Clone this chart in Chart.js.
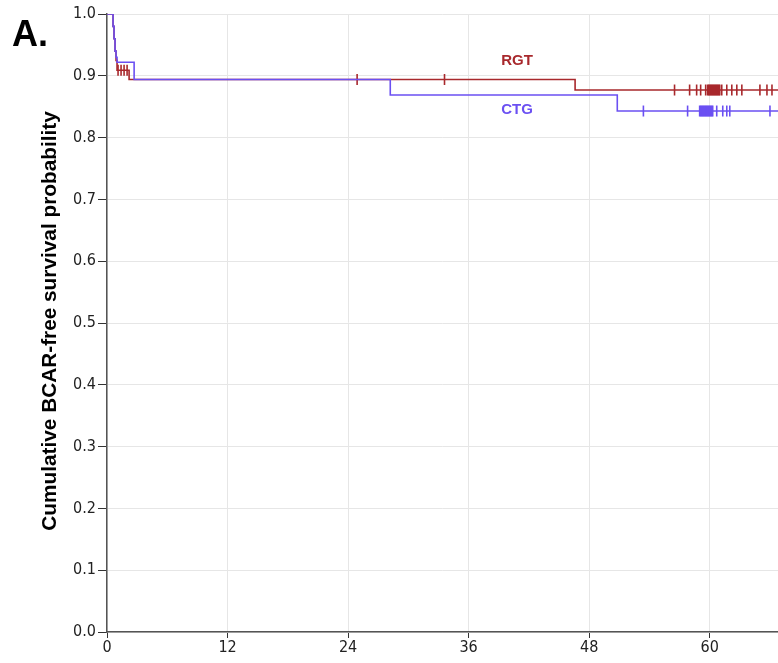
<!DOCTYPE html>
<html>
<head>
<meta charset="utf-8">
<script src="https://cdn.jsdelivr.net/npm/chart.js@4.4.1/dist/chart.umd.min.js"></script>
<style>
  html, body { margin: 0; padding: 0; background: #fff; overflow: hidden; }
  #wrap { width: 778px; height: 663px; position: relative; }
  canvas { display: block; }
</style>
</head>
<body>
<div id="wrap"><canvas id="myChart"></canvas></div>
<script>
// Kaplan-Meier steps (months, survival)
const rgtTime = [0, 0.6, 0.7, 0.8, 0.9, 1.0, 2.2, 46.6];
const rgtSurv = [1.0, 0.98, 0.96, 0.94, 0.925, 0.909, 0.894, 0.877];
const ctgTime = [0, 0.6, 0.7, 0.8, 0.9, 1.0, 2.7, 28.2, 50.8];
const ctgSurv = [1.0, 0.98, 0.96, 0.94, 0.93, 0.922, 0.894, 0.869, 0.843];

// censored times
const rgtCensor = [1.1, 1.4, 1.7, 2.0, 24.9, 33.6, 56.5, 58.0, 58.7, 59.1, 59.6, 59.8,
  59.9, 60.0, 60.1, 60.2, 60.3, 60.4, 60.5, 60.6, 60.7, 60.8, 60.9, 61.0, 61.2,
  61.7, 62.2, 62.7, 63.2, 65.0, 65.7, 66.2];
const ctgCensor = [53.4, 57.8, 59.0, 59.1, 59.2, 59.3, 59.4, 59.5, 59.6, 59.7, 59.8, 59.9,
  60.0, 60.1, 60.2, 60.3, 60.7, 61.3, 61.7, 62.0, 66.0];

const followUpEnd = 66.8;
const xTicks = [0, 12, 24, 36, 48, 60];
const yTicks = [0, 0.1, 0.2, 0.3, 0.4, 0.5, 0.6, 0.7, 0.8, 0.9, 1.0];

const RED = "#a8282c";
const BLUE = "#6b50f2";

function survAt(times, surv, t) {
  let s = surv[0];
  for (let i = 0; i < times.length; i++) {
    if (times[i] <= t) s = surv[i];
  }
  return s;
}

function curve(times, surv) {
  const pts = times.map((t, i) => ({ x: t, y: surv[i] }));
  pts.push({ x: followUpEnd, y: surv[surv.length - 1] });
  return pts;
}

function marks(times, surv, cens) {
  return cens.map((t) => ({ x: t, y: survAt(times, surv, t) }));
}

const tickFont = { family: "'Liberation Sans Narrow', 'DejaVu Sans Condensed', Arial, sans-serif", size: 16 };

const textPlugin = {
  id: "texts",
  afterDraw(chart) {
    const c = chart.ctx;
    c.save();
    c.fillStyle = "#000";
    c.font = "bold 36px 'Liberation Sans', Arial, sans-serif";
    c.textAlign = "left";
    c.textBaseline = "alphabetic";
    c.fillText("A.", 12, 46);

    c.save();
    c.translate(50, 321);
    c.rotate(-Math.PI / 2);
    c.textAlign = "center";
    c.textBaseline = "middle";
    c.font = "bold 20.8px 'Liberation Sans', Arial, sans-serif";
    c.fillText("Cumulative BCAR-free survival probability", 0, 0);
    c.restore();

    c.font = "bold 15px 'Liberation Sans', Arial, sans-serif";
    c.textAlign = "center";
    c.textBaseline = "middle";
    c.fillStyle = RED;
    c.fillText("RGT", 517, 61);
    c.fillStyle = BLUE;
    c.fillText("CTG", 517, 110);
    c.restore();
  },
};

const ctx = document.getElementById("myChart").getContext("2d");

new Chart(ctx, {
  type: "scatter",
  data: {
    datasets: [
      {
        label: "CTG",
        data: curve(ctgTime, ctgSurv),
        showLine: true,
        stepped: true,
        borderColor: BLUE,
        borderWidth: 1.6,
        pointRadius: 0,
      },
      {
        label: "RGT",
        data: curve(rgtTime, rgtSurv),
        showLine: true,
        stepped: true,
        borderColor: RED,
        borderWidth: 1.6,
        pointRadius: 0,
      },
      {
        label: "CTG censored",
        data: marks(ctgTime, ctgSurv, ctgCensor),
        showLine: false,
        pointStyle: "line",
        rotation: 90,
        pointRadius: 5.5,
        borderColor: BLUE,
        borderWidth: 1.6,
      },
      {
        label: "RGT censored",
        data: marks(rgtTime, rgtSurv, rgtCensor),
        showLine: false,
        pointStyle: "line",
        rotation: 90,
        pointRadius: 5.5,
        borderColor: RED,
        borderWidth: 1.6,
      },
    ],
  },
  options: {
    responsive: true,
    maintainAspectRatio: false,
    animation: false,
    layout: { autoPadding: false, padding: { top: 14, right: 0, left: 0, bottom: 0 } },
    plugins: {
      legend: { display: false },
      tooltip: { enabled: false },
    },
    scales: {
      x: {
        type: "linear",
        min: 0,
        max: followUpEnd,
        afterBuildTicks: (s) => { s.ticks = xTicks.map((v) => ({ value: v })); },
        afterFit: (s) => { s.height = 31; s.paddingRight = 0; s.paddingLeft = 0; },
        ticks: {
          autoSkip: false,
          maxRotation: 0,
          padding: 0,
          color: "#222",
          font: tickFont,
        },
        grid: {
          color: "#e6e6e6",
          tickColor: "#333",
          tickLength: 6,
          lineWidth: 1,
        },
        border: { color: "#555", width: 1.5 },
      },
      y: {
        min: 0,
        max: 1.0,
        afterBuildTicks: (s) => { s.ticks = yTicks.map((v) => ({ value: v })); },
        afterFit: (s) => { s.width = 107; },
        ticks: {
          padding: 2,
          color: "#222",
          font: tickFont,
          callback: (v) => v.toFixed(1),
        },
        grid: {
          color: "#e6e6e6",
          tickColor: "#333",
          tickLength: 9,
          lineWidth: 1,
        },
        border: { color: "#555", width: 1.5 },
      },
    },
  },
  plugins: [textPlugin],
});
</script>
</body>
</html>
